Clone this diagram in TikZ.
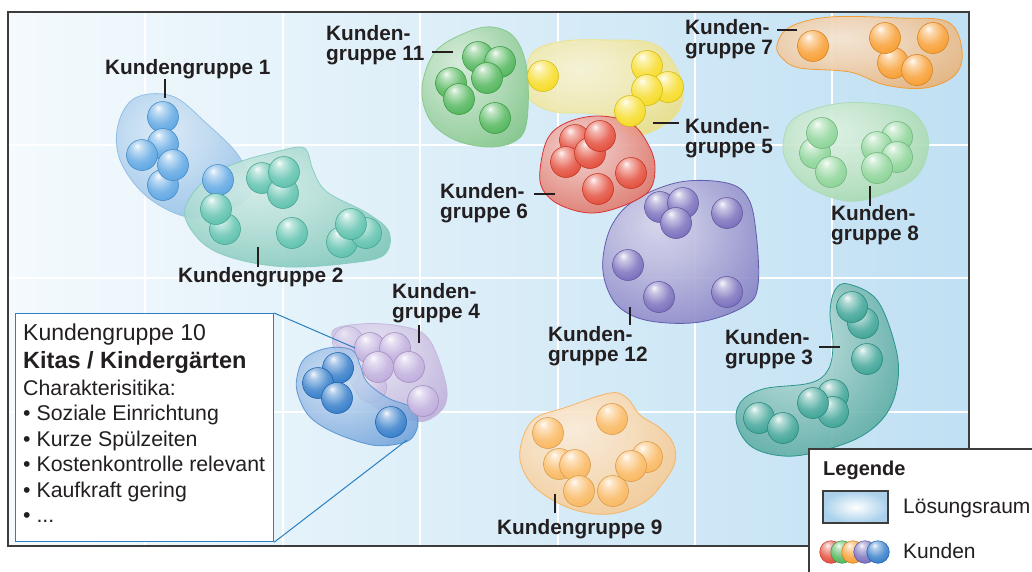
\documentclass[tikz,border=0pt]{standalone}
\usepackage{fontspec}
\setmainfont{Liberation Sans}

% sphere shading for the customer balls, colour taken from sphcol
\colorlet{sphcol}{red}
\colorlet{blobcol}{red}
\pgfdeclareradialshading[sphcol]{sphere}{\pgfqpoint{-8bp}{15bp}}{%
  color(0bp)=(sphcol!5!white);
  color(7bp)=(sphcol!35!white);
  color(22bp)=(sphcol!75!white);
  color(38bp)=(sphcol!95!white);
  color(55bp)=(sphcol!92!black);
  color(75bp)=(sphcol!82!black)}
% soft cloud shading for the group areas
\pgfdeclareradialshading[blobcol]{blobshade}{\pgfqpoint{-8bp}{10bp}}{%
  color(0bp)=(blobcol!30!white);
  color(14bp)=(blobcol!48!white);
  color(38bp)=(blobcol!90!white);
  color(55bp)=(blobcol);
  color(90bp)=(blobcol)}

\definecolor{bgL}{HTML}{F4FAFD}
\definecolor{bgR}{HTML}{C0E0F3}
\definecolor{ink}{HTML}{231F20}
\definecolor{framec}{HTML}{3C3C3C}
\definecolor{infoc}{HTML}{2A7FC0}
% group areas (edge colour / outline colour) and balls
\definecolor{e1}{HTML}{7FB4E2}\definecolor{o1}{HTML}{8EBDE6}\definecolor{b1}{HTML}{4D9DE0}
\definecolor{e2}{HTML}{6FC0B0}\definecolor{o2}{HTML}{86CBBE}\definecolor{b2}{HTML}{4DBBA5}
\definecolor{e11}{HTML}{70BD78}\definecolor{o11}{HTML}{86C88A}\definecolor{b11}{HTML}{3FAE4A}
\definecolor{e5}{HTML}{E6D870}\definecolor{o5}{HTML}{EDE28A}\definecolor{b5}{HTML}{F5D80F}
\definecolor{e6}{HTML}{D95A4A}\definecolor{o6}{HTML}{D8282A}\definecolor{b6}{HTML}{E03A26}
\definecolor{e7}{HTML}{E3A665}\definecolor{o7}{HTML}{F39A2D}\definecolor{b7}{HTML}{F7941D}
\definecolor{e8}{HTML}{93D19F}\definecolor{o8}{HTML}{A9DBB3}\definecolor{b8}{HTML}{7FCF8C}
\definecolor{e12}{HTML}{746FBC}\definecolor{o12}{HTML}{5C55A8}\definecolor{b12}{HTML}{6A5FB5}
\definecolor{e3}{HTML}{3A9A91}\definecolor{o3}{HTML}{23908A}\definecolor{b3}{HTML}{2A9A8C}
\definecolor{e9}{HTML}{F2BE7C}\definecolor{o9}{HTML}{F7B25E}\definecolor{b9}{HTML}{F9B04F}
\definecolor{e4}{HTML}{B5A5D6}\definecolor{o4}{HTML}{C4B6DE}\definecolor{b4}{HTML}{B8A4D9}
\definecolor{e10}{HTML}{4F8CD2}\definecolor{o10}{HTML}{4A88CC}\definecolor{b10}{HTML}{1F6FC4}

% balls of one group: colour, list of x/y
\newcommand\bls[2]{\foreach \bx/\by in {#2} \shadedraw[sphere=#1] (\bx,\by) circle[radius=15.5pt];}

\begin{document}
\begin{tikzpicture}[x=1pt,y=-1pt,
  sphere/.code={\colorlet{sphcol}{#1}\tikzset{shading=sphere,draw=sphcol!85!black,line width=0.5pt}},
  blob/.code={\colorlet{blobcol}{#1}\tikzset{shading=blobshade}},
  blobline/.style={draw=#1,line width=0.8pt,opacity=0.92},
  gridline/.style={white,line width=1.3pt},
  tick/.style={ink,line width=1.6pt},
  lbl/.style={anchor=north west,inner sep=0pt,align=left,text=ink,
    font=\fontsize{20.8}{20.7}\selectfont\bfseries},
  infotxt/.style={anchor=base west,inner sep=0pt,text=ink,font=\fontsize{21.3}{24}\selectfont},
]
\useasboundingbox (0,0) rectangle (1032,571);
\clip (0,0) rectangle (1032,571);
\fill[white] (0,0) rectangle (1032,571);

% solution space with grid
\shade[left color=bgL,right color=bgR] (8,12) rectangle (969,546);
\foreach \gx in {145,283,420,558,695,832} \draw[gridline] (\gx,12) -- (\gx,546);
\foreach \gy in {145,278,412} \draw[gridline] (8,\gy) -- (969,\gy);
\draw[framec,line width=1.5pt] (8,12) rectangle (969,546);

% groups 1 and 2
\shadedraw[blob=e1,blobline=o1] plot[smooth cycle,tension=0.6] coordinates
  {(135,98) (172,96) (205,122) (240,158) (250,195) (215,215) (183,216) (145,195) (120,160) (118,125)};
\shadedraw[blob=e2,blobline=o2] plot[smooth cycle,tension=0.6] coordinates
  {(185,217) (193,193) (217,172) (245,160) (275,152) (300,147) (308,153) (313,170) (327,192) (367,213) (389,232) (384,255) (350,263) (290,267) (240,260) (205,245)};
\bls{b1}{163/117,163/144,163/185,142/155,173/165,218/180}
\bls{b2}{262/178,283/193,284/172,225/229,216/209,292/233,342/242,366/233,351/224}

% groups 5, 11, 12, 6
\shadedraw[blob=e5,blobline=o5] plot[smooth cycle,tension=0.6] coordinates
  {(525,82) (533,52) (565,41) (610,40) (648,42) (668,55) (683,85) (678,112) (655,130) (630,135) (600,115) (555,112) (530,100)};
\shadedraw[blob=e11,blobline=o11] plot[smooth cycle,tension=0.6] coordinates
  {(422,88) (435,52) (465,33) (492,27) (515,38) (527,70) (527,120) (517,140) (490,147) (455,140) (430,120)};
\shadedraw[blob=e12,blobline=o12] plot[smooth cycle,tension=0.6] coordinates
  {(603,258) (612,225) (635,200) (680,182) (727,183) (748,198) (756,232) (758,285) (745,306) (700,322) (650,321) (620,308) (606,285)};
\shadedraw[blob=e6,blobline=o6] plot[smooth cycle,tension=0.6] coordinates
  {(540,170) (548,138) (568,122) (600,116) (632,124) (650,148) (655,170) (648,192) (620,207) (590,213) (560,205) (543,190)};
\bls{b11}{478/57,500/62,487/78,451/83,459/99,495/118}
\bls{b5}{543/76,647/66,668/87,647/90,630/111}
\bls{b6}{575/140,566/162,590/153,600/136,631/173,598/189}
\bls{b12}{660/207,683/203,676/223,727/213,628/265,659/297,727/292}

% groups 7 and 8
\shadedraw[blob=e7,blobline=o7] plot[smooth cycle,tension=0.6] coordinates
  {(777,45) (790,27) (830,17) (900,18) (948,22) (962,50) (955,75) (925,88) (885,85) (850,72) (800,68) (782,58)};
\shadedraw[blob=e8,blobline=o8] plot[smooth cycle,tension=0.6] coordinates
  {(783,145) (795,118) (843,103) (903,108) (924,126) (928,150) (915,178) (878,196) (846,201) (810,188) (790,168)};
\bls{b7}{813/46,893/63,885/38,917/70,933/38}
\bls{b8}{815/153,822/133,831/172,897/137,877/147,897/157,877/168}

% groups 3 and 9
\shadedraw[blob=e3,blobline=o3] plot[smooth cycle,tension=0.6] coordinates
  {(835,290) (848,284) (877,300) (895,345) (898,380) (887,413) (860,437) (817,452) (783,456) (752,447) (737,425) (740,403) (763,389) (810,383) (828,370) (833,345) (830,313)};
\shadedraw[blob=e9,blobline=o9] plot[smooth cycle,tension=0.6] coordinates
  {(520,450) (533,420) (567,407) (610,393) (627,398) (640,415) (660,428) (673,443) (675,462) (663,483) (643,503) (610,514) (575,510) (543,494) (525,474)};
\bls{b3}{863/323,852/307,867/359,833/395,833/412,813/403,759/418,783/428}
\bls{b9}{548/433,612/419,559/464,575/465,579/491,613/491,647/457,631/466}

% groups 4 and 10
\shadedraw[blob=e4,blobline=o4] plot[smooth cycle,tension=0.6] coordinates
  {(332,332) (360,324) (400,326) (428,338) (445,380) (445,405) (428,420) (410,420) (380,410) (355,390) (345,360)};
\begin{scope}[opacity=0.55]
\bls{b4}{348/342,371/387}
\end{scope}
\shadedraw[blob=e10,blobline=o10,opacity=0.8] plot[smooth cycle,tension=0.6] coordinates
  {(297,377) (305,358) (328,348) (352,350) (360,365) (367,382) (388,398) (413,408) (418,423) (412,438) (398,444) (372,445) (335,433) (310,417) (298,395)};
\bls{b4}{370/348,395/348,378/367,409/367,423/401}
\bls{b10}{338/368,318/383,337/398,391/422}

% detail box for group 10
\node[draw=infoc,fill=white,line width=1.2pt,minimum width=258pt,minimum height=228pt,
  anchor=north west,inner sep=0pt] (infobox) at (15,313) {};
\coordinate (z10a) at (355,348);
\coordinate (z10b) at (407,440);
\draw[infoc,line width=1pt] (infobox.north east) -- (z10a);
\draw[infoc,line width=1pt] (infobox.south east) -- (z10b);
\node[infotxt,font=\fontsize{23}{26}\selectfont] (i1) at (23,340) {Kundengruppe 10};
\node[infotxt,font=\fontsize{23.5}{26}\selectfont\bfseries] (i2) at (23,368) {Kitas / Kindergärten};
\node[infotxt] (i3) at (23,395) {Charakterisitika:};
\node[infotxt] (i4) at (23,420) {• Soziale Einrichtung};
\node[infotxt] (i5) at (23,446) {• Kurze Spülzeiten};
\node[infotxt] (i6) at (23,471) {• Kostenkontrolle relevant};
\node[infotxt] (i7) at (23,497) {• Kaufkraft gering};
\node[infotxt] (i8) at (23,522) {• ...};

% group labels
\node[lbl] (l1) at (105,59.3) {Kundengruppe 1};
\node[lbl] (l2) at (178,267) {Kundengruppe 2};
\node[lbl] (l11) at (326,25) {Kunden-\\gruppe 11};
\node[lbl] (l5) at (685,118) {Kunden-\\gruppe 5};
\node[lbl] (l6) at (440,183) {Kunden-\\gruppe 6};
\node[lbl] (l7) at (685,19) {Kunden-\\gruppe 7};
\node[lbl] (l8) at (831,205) {Kunden-\\gruppe 8};
\node[lbl] (l12) at (548,326) {Kunden-\\gruppe 12};
\node[lbl] (l3) at (725,329) {Kunden-\\gruppe 3};
\node[lbl] (l9) at (497,519) {Kundengruppe 9};
\node[lbl] (l4) at (392,283) {Kunden-\\gruppe 4};

% leader ticks
\coordinate (t1a) at (165,79);  \coordinate (t1b) at (165,98);
\coordinate (t2a) at (258,247); \coordinate (t2b) at (258,267);
\coordinate (t11a) at (432,52); \coordinate (t11b) at (453,52);
\coordinate (t5a) at (653,123); \coordinate (t5b) at (679,123);
\coordinate (t6a) at (534,194); \coordinate (t6b) at (555,194);
\coordinate (t7a) at (777,30);  \coordinate (t7b) at (797,30);
\coordinate (t8a) at (870,186); \coordinate (t8b) at (870,206);
\coordinate (t12a) at (630,307); \coordinate (t12b) at (630,325);
\coordinate (t3a) at (819,347); \coordinate (t3b) at (840,347);
\coordinate (t9a) at (555,494); \coordinate (t9b) at (555,513);
\coordinate (t4a) at (419,325); \coordinate (t4b) at (419,343);
\foreach \t in {1,2,11,5,6,7,8,12,3,9,4} \draw[tick] (t\t a) -- (t\t b);

% legend
\draw[framec,fill=white,line width=1.5pt] (809,449) rectangle (1045,585);
\node[anchor=base west,inner sep=0pt,text=ink,font=\fontsize{20}{22}\selectfont\bfseries] (leg) at (823,475) {Legende};
\shadedraw[draw=framec,line width=1.2pt,inner color=white,outer color=bgR!85!infoc] (823,491) rectangle (888,523);
\node[anchor=base west,inner sep=0pt,text=ink,font=\fontsize{21}{24}\selectfont] (legA) at (903,513) {Lösungsraum};
\foreach \lx/\lc in {831/b6,842/b11,853/b7,865/b12,878/b10}
  \shadedraw[sphere=\lc] (\lx,552) circle[radius=11.3pt];
\node[anchor=base west,inner sep=0pt,text=ink,font=\fontsize{21}{24}\selectfont] (legB) at (903,558) {Kunden};
\end{tikzpicture}
\end{document}
